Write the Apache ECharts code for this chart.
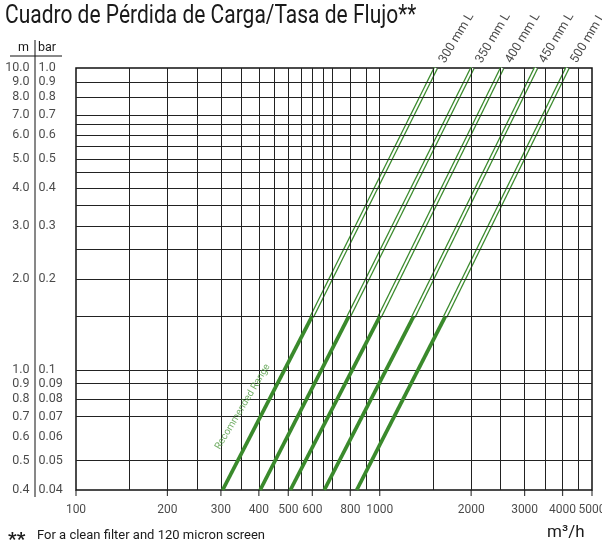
<!DOCTYPE html>
<html><head><meta charset="utf-8">
<script src="https://cdn.jsdelivr.net/npm/echarts@6/dist/echarts.min.js"></script>
<style>html,body{margin:0;padding:0;background:#fff}#c{width:602px;height:542px}</style>
</head><body><div id="c"></div>
<script>
// ---------- data ----------
const titleText = 'Cuadro de Pérdida de Carga/Tasa de Flujo**';
const lineNames = ['300 mm L', '350 mm L', '400 mm L', '450 mm L', '500 mm L'];
// flow (m³/h) read at 0.04 bar, at 0.15 bar (end of recommended range) and at 1.0 bar
const flowAtMin    = [304, 404, 508, 657, 840];
const flowAtRecEnd = [598, 790, 1000, 1292, 1643];
const flowAtMax    = [1530, 2020, 2530, 3270, 4150];
const pressureMin = 0.04, pressureRecEnd = 0.15, pressureMax = 1.0;
const xTickValues = [100, 200, 300, 400, 500, 600, 800, 1000, 2000, 3000, 4000, 5000];
const xGridValues = [150, 200, 250, 300, 350, 400, 450, 500, 550, 600, 650, 700, 800, 900, 1000, 1500, 2000, 2500, 3000, 3500, 4000, 4500];
const yGridValues = [0.9, 0.8, 0.7, 0.65, 0.6, 0.55, 0.5, 0.45, 0.4, 0.35, 0.3, 0.25, 0.2, 0.15, 0.1, 0.09, 0.08, 0.07, 0.05];
const barTicks  = [1.0, 0.9, 0.8, 0.7, 0.6, 0.5, 0.4, 0.3, 0.2, 0.1, 0.09, 0.08, 0.07, 0.06, 0.05, 0.04];
const barLabels = ['1.0', '0.9', '0.8', '0.7', '0.6', '0.5', '0.4', '0.3', '0.2', '0.1', '0.09', '0.08', '0.07', '0.06', '0.05', '0.04'];
const mLabels   = ['10.0', '9.0', '8.0', '7.0', '6.0', '5.0', '4.0', '3.0', '2.0', '1.0', '0.9', '0.8', '0.7', '0.6', '0.5', '0.4'];
const recommendedText = 'Recommended Range';
const recommendedAt = [354, 0.0754];

// ---------- chart ----------
const FONT = 'Roboto, "Noto Sans", sans-serif';
const GREEN = '#3a8a2c';
const TXT = '#1a1a1a';
const M_COL_X = 30, BAR_COL_X = 38;

const series = [];
series.push({
  type: 'line', xAxisIndex: 0, yAxisIndex: 0, data: [[100, 0.04]], symbol: 'none',
  lineStyle: { width: 0 }, silent: true, z: 1,
  markLine: {
    silent: true, symbol: ['none', 'none'], animation: false, label: { show: false },
    lineStyle: { color: '#222', width: 1, type: 'solid' },
    emphasis: { disabled: true },
    data: [...xGridValues.map(v => ({ xAxis: v })), ...yGridValues.map(v => ({ yAxis: v }))]
  }
});
lineNames.forEach((name, i) => {
  const upper = [[flowAtRecEnd[i], pressureRecEnd], [flowAtMax[i], pressureMax]];
  const lower = [[flowAtMin[i], pressureMin], [flowAtRecEnd[i], pressureRecEnd]];
  series.push({ type: 'line', name, data: upper, symbol: 'none', silent: true, z: 3,
    lineStyle: { color: GREEN, width: 4.6 } });
  series.push({ type: 'line', data: upper, symbol: 'none', silent: true, z: 4,
    lineStyle: { color: '#ffffff', width: 2 } });
  series.push({ type: 'line', data: lower, symbol: 'none', silent: true, z: 5,
    lineStyle: { color: GREEN, width: 3.8 } });
});
series.push({
  type: 'scatter', z: 6, silent: true, clip: false, symbolSize: 1, itemStyle: { color: 'transparent' },
  data: lineNames.map((n, i) => ({ name: n, value: [flowAtMax[i], pressureMax] })),
  label: { show: true, formatter: '{b}', position: 'right', distance: 0, rotate: 59, offset: [8, 2],
    fontSize: 12.5, color: TXT, fontFamily: FONT }
});
series.push({
  type: 'scatter', z: 6, silent: true, clip: false, symbolSize: 1, itemStyle: { color: 'transparent' },
  data: [{ name: recommendedText, value: recommendedAt }],
  label: { show: true, formatter: '{b}', position: 'inside', rotate: 59,
    fontSize: 10, color: '#4f9a40', fontFamily: FONT }
});
series.push({
  type: 'scatter', z: 2, silent: true, clip: false, symbol: 'rect', symbolSize: [1.2, 6], symbolOffset: [0, 3],
  itemStyle: { color: '#111' },
  data: xTickValues.map(v => [v, pressureMin]),
  label: { show: true, position: 'bottom', distance: 8, formatter: p => String(p.value[0]),
    fontSize: 12, color: TXT, fontFamily: FONT }
});
series.push({
  type: 'scatter', xAxisIndex: 1, yAxisIndex: 1, silent: true, clip: false, symbolSize: 1,
  itemStyle: { color: 'transparent' },
  data: barTicks.map((v, i) => ({ name: mLabels[i], value: [M_COL_X, v] })),
  label: { show: true, formatter: '{b}', position: 'left', distance: 0, fontSize: 12.5, color: TXT, fontFamily: FONT }
});
series.push({
  type: 'scatter', xAxisIndex: 1, yAxisIndex: 1, silent: true, clip: false, symbolSize: 1,
  itemStyle: { color: 'transparent' },
  data: barTicks.map((v, i) => ({ name: barLabels[i], value: [BAR_COL_X, v] })),
  label: { show: true, formatter: '{b}', position: 'right', distance: 0, fontSize: 12.5, color: TXT, fontFamily: FONT }
});

const hiddenLog = (min, max, gi) => ({
  type: 'log', logBase: 10, min, max, gridIndex: gi,
  axisLine: { show: false }, axisTick: { show: false }, axisLabel: { show: false },
  splitLine: { show: false }, minorTick: { show: false }, minorSplitLine: { show: false }
});

const chart = echarts.init(document.getElementById('c'), null, { renderer: 'canvas' });
chart.setOption({
  animation: false,
  backgroundColor: '#ffffff',
  grid: [
    { left: 76, top: 68, width: 516, height: 422, show: true, borderColor: '#111', borderWidth: 1.5 },
    { left: 0, top: 68, width: 76, height: 422, show: false }
  ],
  xAxis: [hiddenLog(100, 5000, 0), { type: 'value', min: 0, max: 76, gridIndex: 1, show: false }],
  yAxis: [hiddenLog(0.04, 1, 0), hiddenLog(0.04, 1, 1)],
  series,
  graphic: [
    { type: 'text', x: 5, y: 17, scaleX: 0.84, style: { text: titleText, align: 'left', verticalAlign: 'middle', font: '25px Roboto', fill: TXT } },
    { type: 'line', shape: { x1: 35, y1: 40, x2: 35, y2: 497 }, style: { stroke: '#111', lineWidth: 1 } },
    { type: 'line', shape: { x1: 10, y1: 56, x2: 62, y2: 56 }, style: { stroke: '#111', lineWidth: 1 } },
    { type: 'text', x: 29, y: 48, style: { text: 'm', align: 'right', verticalAlign: 'middle', font: '12.5px Roboto', fill: TXT } },
    { type: 'text', x: 38, y: 48, style: { text: 'bar', align: 'left', verticalAlign: 'middle', font: '12.5px Roboto', fill: TXT } },
    { type: 'text', x: 547, y: 533, style: { text: 'm³/h', align: 'left', verticalAlign: 'middle', font: '17px Roboto', fill: TXT } },
    { type: 'text', x: 8, y: 540, style: { text: '**', align: 'left', verticalAlign: 'middle', font: 'bold 19px Roboto', fill: TXT } },
    { type: 'text', x: 37, y: 536, style: { text: 'For a clean filter and 120 micron screen', align: 'left', verticalAlign: 'middle', font: '13px Roboto', fill: TXT } }
  ]
});
</script>
</body></html>
